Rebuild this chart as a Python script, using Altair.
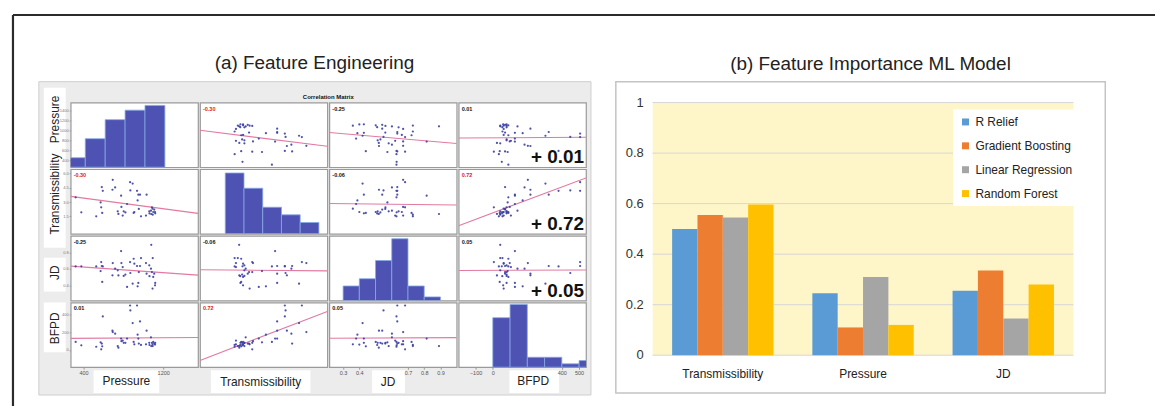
import altair as alt
import pandas as pd

pressure = [320, 377, 527, 571, 583, 593, 577, 693, 690, 717, 777, 780, 793, 743, 803, 837, 867, 893,
            870, 910, 937, 943, 950, 967, 955, 977, 1033, 1027, 1060, 1077, 1087, 1093, 1100, 1110,
            1120, 1080, 903, 1095, 587, 750, 820, 1062, 1118]
transmissibility = [3.49, 1.92, 1.50, 2.96, 4.57, 4.18, 2.44, 5.33, 4.29, 4.53, 3.66, 2.48, 1.57, 2.02,
                    2.02, 2.79, 5.09, 4.94, 4.22, 1.95, 4.18, 3.17, 3.77, 3.77, 2.27, 1.50, 3.77, 1.57,
                    2.02, 2.09, 2.44, 2.30, 1.95, 2.20, 1.81, 1.74, 1.85, 1.67, 1.85, 1.75, 1.90, 1.80, 1.95]
jd = [0.629, 0.630, 0.629, 0.573, 0.634, 0.629, 0.682, 0.670, 0.521, 0.601, 0.815, 0.670, 0.621, 0.581,
      0.513, 0.380, 0.682, 0.420, 0.549, 0.662, 0.634, 0.388, 0.428, 0.634, 0.560, 0.730, 0.541, 0.670,
      0.642, 0.601, 0.561, 0.360, 0.501, 0.541, 0.428, 0.891, 0.722, 0.730, 0.440, 0.520, 0.530, 0.510, 0.400]
bfpd = [90, 52, 35, 86, 71, 381, 6, 203, 218, 184, 128, 98, 105, 43, 80, 128, 506, 305, 449, 63, 506,
        173, 128, 324, 71, 56, 218, 63, 80, 143, 80, 63, 90, 71, 80, 43, 90, 43, 40, 24, 80, 55, 60]

var_names = ["Pressure", "Transmissibility", "JD", "BFPD"]
var_fields = ["P", "T", "JD", "B"]
var_domains = [[270, 1550], [-0.35, 6.45], [0.215, 1.0], [-198, 540]]
var_formats = ["d", ".1f", ".1f", "d"]

# diagonal histograms
hist_starts = [[217, 417, 617, 817, 1017], [1, 2, 3, 4, 5], [0.3, 0.4, 0.5, 0.6, 0.7, 0.8],
               [0, 100, 200, 300, 400, 500]]
hist_widths = [200, 1, 0.1, 100]
hist_counts = [[2, 6, 10, 12, 13], [16, 12, 7, 5, 3], [4, 6, 11, 17, 4, 1], [15, 19, 3, 3, 1, 2]]
hist_tops = [13.6, 17, 17.8, 19.6]

corr_pairs = [("P", "T"), ("P", "JD"), ("P", "B"), ("T", "JD"), ("T", "B"), ("JD", "B")]
corr_labels = ["-0.30", "-0.25", "0.01", "-0.06", "0.72", "0.05"]
big_labels = ["+ 0.01", "+ 0.72", "+ 0.05"]   # BFPD column, rows 1-3

bottom_ticks = [[400, 1200], [], [0.3, 0.4, 0.7, 0.8, 0.9], [-100, 0, 400, 500]]
left_ticks = [[400, 600, 800, 1000, 1200, 1400], [1.5, 3, 4.5, 6], [0.4, 0.6, 0.8], [0, 200, 400]]

# ---------------- (b) feature importance ----------------
features = ["Transmissibility", "Pressure", "JD"]
models = ["R Relief", "Gradient Boosting", "Linear Regression", "Random Forest"]
r_relief = [0.50, 0.245, 0.255]
gradient_boosting = [0.555, 0.11, 0.335]
linear_regression = [0.545, 0.31, 0.145]
random_forest = [0.597, 0.12, 0.28]
model_colors = ["#5B9BD5", "#ED7D31", "#A5A5A5", "#FFC000"]
y_tick_values = [0, 0.2, 0.4, 0.6, 0.8, 1]
y_tick_labels = ["0", "0.2", "0.4", "0.6", "0.8", "1"]

panel_titles = ["(a) Feature Engineering", "(b) Feature Importance ML Model"]
matrix_title = "Correlation Matrix"

# ---------------- styles ----------------
FONT = "Liberation Sans, Arial, sans-serif"
PT = "#3B3FA0"
LINE = "#E27AA2"
HIST_FILL = "#4E52B2"
HIST_EDGE = "#86A9E4"
RED = "#E0201B"
TXT = "#222222"
CELL_W, CELL_H = 128, 65
LAB_W = 57            # width of the row-label column of the grid
RIGHT_W = 488         # width reserved for panel (b) in the grid's first row
PLOT_X0, PLOT_X1 = 65, 488   # panel (b) plot range inside its slot
PLOT_H = 254
GRID_X, GRID_Y = 8, 101      # page position of the grid origin

obs = pd.DataFrame({"P": pressure, "T": transmissibility, "JD": jd, "B": bfpd})
one = pd.DataFrame({"k": [0]})
TRANSPARENT = alt.ViewBackground(stroke="transparent", fill="transparent")


def sc(i):
    return alt.Scale(domain=var_domains[i], nice=False, zero=False)


def bottom_axis(i):
    if not bottom_ticks[i]:
        return None
    return alt.Axis(values=bottom_ticks[i], format=var_formats[i], title=None, labelFontSize=5.5,
                    labelColor="#555", labelFont=FONT, tickSize=2, tickColor="#999",
                    domain=False, grid=False, labelPadding=1.5, orient="bottom")


def left_axis(i):
    return alt.Axis(values=left_ticks[i], format=var_formats[i], title=None, labelFontSize=4,
                    labelColor="#777", labelFont=FONT, tickSize=1.5, tickColor="#999",
                    domain=False, grid=False, labelPadding=1, orient="left")


def corr_label(a, b):
    for (p, q), lab in zip(corr_pairs, corr_labels):
        if (p, q) == (a, b) or (q, p) == (a, b):
            return lab
    return ""


def make_cell(r, c):
    fy, fx = var_fields[r], var_fields[c]
    xa = bottom_axis(c) if r == 3 else None
    ya = left_axis(r) if c == 0 else None
    layers = []
    if r == c:
        h = pd.DataFrame({"start": hist_starts[c], "count": hist_counts[c]})
        h["end"] = h["start"] + hist_widths[c]
        layers.append(
            alt.Chart(h).mark_rect(fill=HIST_FILL, stroke=HIST_EDGE, strokeWidth=0.8, clip=True).encode(
                x=alt.X("start:Q", scale=sc(c), axis=xa),
                x2="end:Q",
                y=alt.Y("count:Q", scale=alt.Scale(domain=[0, hist_tops[c]], nice=False), axis=None),
                y2=alt.datum(0),
            )
        )
        if c == 0:
            layers.append(
                alt.Chart(obs).mark_point(opacity=0).encode(y=alt.Y(f"{fy}:Q", scale=sc(r), axis=ya))
            )
    else:
        enc = dict(x=alt.X(f"{fx}:Q", scale=sc(c), axis=xa), y=alt.Y(f"{fy}:Q", scale=sc(r), axis=ya))
        layers.append(
            alt.Chart(obs).transform_regression(fx, fy, extent=var_domains[c])
            .mark_line(color=LINE, strokeWidth=1.1, clip=True).encode(**enc)
        )
        layers.append(alt.Chart(obs).mark_circle(size=5, color=PT, opacity=0.9).encode(**enc))
        lab = corr_label(fx, fy)
        col = RED if abs(float(lab)) >= 0.3 else "#111"
        layers.append(
            alt.Chart(one).mark_text(text=lab, align="left", baseline="middle", fontSize=5.5,
                                     fontWeight="bold", color=col, font=FONT)
            .encode(x=alt.value(3), y=alt.value(6))
        )
        if c == 3 and r < 3:
            layers.append(
                alt.Chart(one).mark_text(text=big_labels[r], align="right", baseline="alphabetic",
                                         fontSize=19, fontWeight="bold", font=FONT, color="#111")
                .encode(x=alt.value(126), y=alt.value(61))
            )
    ch = alt.layer(*layers)
    if r == c and c == 0:
        ch = ch.resolve_scale(y="independent")
    return ch.properties(width=CELL_W, height=CELL_H,
                         view=alt.ViewBackground(fill="white", stroke="#9A9A9A", strokeWidth=1.2))


# ---------------- panel (b): grouped bars drawn through explicit scale ranges ----------------
recs = []
for m, vals in zip(models, [r_relief, gradient_boosting, linear_regression, random_forest]):
    for f, v in zip(features, vals):
        recs.append({"feature": f, "model": m, "value": v})
bar_df = pd.DataFrame(recs)
tick_df = pd.DataFrame({"v": y_tick_values, "lab": y_tick_labels})
feat_df = pd.DataFrame({"feature": features})

xs = alt.Scale(domain=features, range=[PLOT_X0, PLOT_X1], paddingInner=0.277, paddingOuter=0.139)
ys = alt.Scale(domain=[0, 1], range=[PLOT_H, 0], nice=False)

grid_rules = alt.Chart(tick_df).mark_rule(color="#D6D6D6", strokeWidth=1).encode(
    y=alt.Y("v:Q", scale=ys, axis=None), x=alt.value(PLOT_X0), x2=alt.value(PLOT_X1))
bars = alt.Chart(bar_df).mark_bar().encode(
    x=alt.X("feature:N", sort=features, scale=xs, axis=None),
    xOffset=alt.XOffset("model:N", sort=models),
    y=alt.Y("value:Q", scale=ys, axis=None),
    color=alt.Color("model:N", sort=models, scale=alt.Scale(domain=models, range=model_colors),
                    legend=alt.Legend(title=None, orient="none", legendX=946, legendY=7,
                                      fillColor="white", padding=6.5, symbolType="square",
                                      symbolSize=49, symbolStrokeWidth=0, labelFontSize=12,
                                      labelFont=FONT, labelColor=TXT, rowPadding=12,
                                      labelOffset=4, direction="vertical")),
)
y_labels = alt.Chart(tick_df).mark_text(align="right", baseline="middle", fontSize=13, font=FONT,
                                        color="#333").encode(
    y=alt.Y("v:Q", scale=ys, axis=None), x=alt.value(PLOT_X0 - 9), text="lab:N")
x_labels = alt.Chart(feat_df).mark_text(align="center", baseline="middle", fontSize=12, font=FONT,
                                        color=TXT).encode(
    x=alt.X("feature:N", sort=features, scale=xs, axis=None), y=alt.value(PLOT_H + 19), text="feature:N")

right = alt.layer(grid_rules, bars, y_labels, x_labels).properties(
    width=RIGHT_W, height=CELL_H, view=TRANSPARENT)


# ---------------- background decorations (page coords -> grid coords) ----------------
def deco_rect(x1, y1, x2, y2, **style):
    return alt.Chart(one).mark_rect(**style).encode(
        x=alt.value(x1 - GRID_X), x2=alt.value(x2 - GRID_X),
        y=alt.value(y1 - GRID_Y), y2=alt.value(y2 - GRID_Y))


def deco_text(txt, x, y, **style):
    return alt.Chart(one).mark_text(text=txt, **style).encode(
        x=alt.value(x - GRID_X), y=alt.value(y - GRID_Y))


def deco_rule(x1, y1, x2, y2, **style):
    return alt.Chart(one).mark_rule(**style).encode(
        x=alt.value(x1 - GRID_X), x2=alt.value(x2 - GRID_X),
        y=alt.value(y1 - GRID_Y), y2=alt.value(y2 - GRID_Y))


deco = [
    deco_rect(8, 8, 1157, 406, fill="white", strokeWidth=0),
    deco_rule(9, 13, 1157, 13, color="#2B2B2B", strokeWidth=2.2),
    deco_rule(9, 13, 9, 406, color="#2B2B2B", strokeWidth=2.2),
    deco_rect(35, 80, 590, 395, fill="#ECECEC", stroke="#CFCFCF", strokeWidth=1),
    deco_rect(40, 86, 62, 247, fill="white"),
    deco_rect(40, 257, 62, 291, fill="white"),
    deco_rect(40, 302, 62, 352, fill="white"),
    deco_rect(90, 370, 156, 393, fill="white"),
    deco_rect(208, 370, 308, 393, fill="white"),
    deco_rect(370, 370, 403, 393, fill="white"),
    deco_rect(508, 370, 558, 393, fill="white"),
    deco_rect(615, 80, 1107, 393, fill="white", stroke="#C4C4C4", strokeWidth=1.5),
    deco_rect(652, 101, 1075, 355, fill="#FEF6C9"),
    deco_text(panel_titles[0], 312, 61, fontSize=19, font=FONT, color=TXT,
              align="center", baseline="middle"),
    deco_text(panel_titles[1], 871, 62, fontSize=19, font=FONT, color=TXT,
              align="center", baseline="middle"),
    deco_text(matrix_title, 326, 95, fontSize=6, font=FONT, fontWeight="bold", color="#111",
              align="center", baseline="middle"),
]
row_label_pos = [(51, 118), (51, 193), (51, 272), (51, 328)]
col_label_pos = [(123, 381), (258, 382), (386, 382), (532, 381)]
for name, (x, y) in zip(var_names, row_label_pos):
    deco.append(deco_text(name, x, y, fontSize=12, font=FONT, color=TXT, angle=270,
                          align="center", baseline="middle"))
for name, (x, y) in zip(var_names, col_label_pos):
    deco.append(deco_text(name, x, y, fontSize=12, font=FONT, color=TXT,
                          align="center", baseline="middle"))

bg = alt.layer(*deco).properties(width=LAB_W, height=CELL_H, view=TRANSPARENT)


def spacer(w):
    return alt.Chart(one).mark_point(opacity=0).encode(x=alt.value(0), y=alt.value(0)).properties(
        width=w, height=CELL_H, view=TRANSPARENT)


items = []
for r in range(4):
    items.append(bg if r == 0 else spacer(LAB_W))
    for c in range(4):
        items.append(make_cell(r, c))
    items.append(right if r == 0 else spacer(10))

chart = alt.concat(*items, columns=6, spacing=2, bounds="flush", align="each").properties(
    padding=0).configure(font=FONT).configure_view(stroke="transparent")

chart.save("out.html", embed_options={"renderer": "svg", "actions": False})
